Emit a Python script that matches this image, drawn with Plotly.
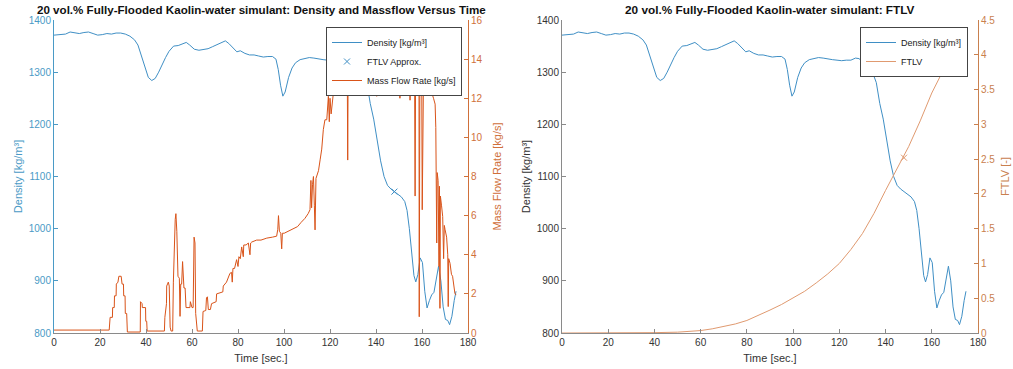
import plotly.graph_objects as go

# ---------------- data ----------------
density_time = [0, 2, 5, 7, 9, 11, 13, 15, 17, 19, 21, 23, 25, 27, 29, 31, 33, 35, 36.5, 38,
                39.5, 41, 42.5, 44, 45.5, 47, 48.5, 50, 52, 54, 56, 57.5, 59, 61, 63, 65, 67, 69, 71, 73,
                74.5, 76, 78, 79.5, 81, 83, 85, 87, 89, 91, 93, 95, 96.5, 97.5, 98.5, 99.5, 100.5, 102, 103.5, 105,
                107, 109, 111, 113, 115, 117, 119, 121, 123, 125, 127, 128.5, 130, 131.5, 133, 134.5, 136, 137.5, 139, 140.5,
                142, 143.5, 145, 146.5, 148, 149.5, 151, 152.5, 153.5, 154.5, 155.5, 156.5, 157.3, 158.2, 159.2, 160.2, 161.2, 162.2, 163.2, 164.2,
                165.2, 166.2, 167.2, 168.2, 169.2, 170.2, 171.2, 172, 173, 174, 174.8]
density = [1371, 1372, 1373, 1377, 1376, 1374, 1376, 1377, 1374, 1371, 1372, 1374, 1373, 1375, 1375, 1373, 1369, 1362, 1352, 1330,
           1308, 1290, 1284, 1288, 1300, 1315, 1328, 1340, 1350, 1351, 1354, 1357, 1352, 1344, 1342, 1344, 1345, 1349, 1353, 1358,
           1360, 1355, 1346, 1339, 1341, 1336, 1333, 1333, 1331, 1329, 1330, 1330, 1325, 1305, 1275, 1254, 1262, 1290, 1308, 1318,
           1324, 1326, 1328, 1327, 1325, 1324, 1323, 1322, 1323, 1323, 1327, 1326, 1320, 1312, 1305, 1298, 1280, 1240, 1210, 1170,
           1130, 1100, 1083, 1076, 1071, 1066, 1061, 1052, 1035, 1000, 950, 910, 898, 912, 944, 935, 880, 848, 862, 873,
           878, 905, 928, 900, 850, 826, 824, 816, 832, 862, 880]

massflow_time = [
    0, 24.0, 24.4, 25.4, 25.5, 26.2, 26.3, 27.0, 27.1, 27.8,
    28.2, 29.2, 29.6, 30.2, 30.3, 30.9, 31.0, 31.6, 31.9, 37.5,
    37.6, 38.3, 38.4, 39.8, 39.9, 40.3, 40.5, 48.0, 48.2, 48.9,
    49.0, 49.7, 50.1, 50.5, 50.9, 51.6, 51.9, 52.3, 52.7, 53.0,
    53.4, 53.9, 54.5, 54.8, 55.1, 55.5, 55.9, 56.5, 57.0, 57.4,
    59.1, 59.3, 60.0, 60.5, 60.9, 61.3, 61.6, 62.3, 64.5, 64.8,
    66.0, 66.3, 66.7, 67.1, 68.0, 68.5, 70.5, 70.7, 73.4, 73.6,
    75.0, 76.5, 77.2, 77.5, 77.8, 78.5, 79.4, 80.0, 80.4, 81.0,
    81.6, 82.3, 82.5, 83.5, 84.5, 85.2, 85.5, 86.0, 88.1, 90.0,
    92.5, 95.0, 96.8, 97.3, 97.6, 98.0, 98.6, 99.0, 99.3, 100.1,
    103.0, 104.0, 105.9, 107.4, 109.1, 110.5, 111.3, 111.7, 112.0, 112.4,
    112.8, 113.2, 113.5, 113.9, 114.2, 115.0, 115.7, 116.4, 117.1, 117.8,
    118.6, 119.3, 119.7, 120.0, 120.5, 121.4, 122.5, 123.6, 124.3, 125.0,
    125.8, 126.5, 127.0, 127.5, 127.7, 127.9, 128.5, 129.5, 131.0, 133.0,
    135.0, 137.0, 138.8, 139.6, 140.0, 140.3, 140.6, 141.7, 143.0, 144.6,
    146.0, 147.5, 148.1, 148.3, 148.6, 149.0, 150.2, 150.4, 150.7, 152.0,
    153.3, 154.6, 154.8, 155.0, 155.5, 156.5, 156.8, 157.0, 157.2, 157.5,
    157.7, 157.9, 158.5, 158.7, 158.8, 158.9, 159.1, 159.4, 159.9, 160.1,
    160.3, 160.6, 162.0, 163.0, 164.2, 165.0, 165.7, 166.0, 166.2, 166.4,
    166.6, 167.0, 167.4, 167.6, 167.8, 168.0, 168.5, 169.0, 169.4, 169.7,
    170.0, 170.7, 171.2, 171.4, 171.6, 172.2, 172.8, 173.3, 174.3, 174.8]
massflow = [
    0.15, 0.15, 0.8, 0.8, 1.3, 1.3, 1.9, 1.9, 2.5, 2.6,
    2.9, 2.9, 2.5, 2.5, 1.9, 1.9, 1.0, 1.0, 0.05, 0.05,
    1.6, 1.5, 1.3, 1.3, 0.6, 0.6, 0.1, 0.1, 0.8, 1.5,
    2.4, 2.6, 2.4, 0.3, 0.1, 0.1, 2.6, 4.5, 5.8, 6.1,
    5.2, 2.9, 2.8, 0.85, 2.5, 2.5, 3.65, 2.3, 2.3, 1.3,
    1.3, 1.6, 1.3, 1.3, 4.9, 4.6, 1.0, 0.1, 0.1, 1.1,
    1.15, 1.8, 1.85, 1.2, 1.2, 1.5, 1.6, 2.0, 2.1, 2.4,
    2.6, 3.05, 3.1, 2.6, 3.3, 3.3, 3.75, 3.4, 3.9, 3.8,
    4.4, 3.9, 4.5, 4.5, 4.6, 4.0, 4.6, 4.65, 4.75, 4.75,
    4.85, 4.9, 4.95, 5.3, 6.0, 5.2, 5.1, 4.3, 5.1, 5.1,
    5.27, 5.35, 5.44, 5.65, 5.86, 6.1, 6.3, 7.8, 6.4, 7.6,
    8.0, 6.5, 5.27, 7.9, 8.0, 8.3, 8.85, 9.4, 10.4, 10.9,
    10.9, 12.1, 10.8, 12.0, 11.2, 12.2, 12.2, 12.25, 12.8, 12.8,
    13.3, 13.5, 14.3, 13.6, 8.84, 13.8, 14.2, 14.5, 14.2, 14.4,
    14.1, 14.0, 13.6, 13.45, 13.3, 12.1, 13.2, 13.1, 13.05, 13.0,
    12.95, 12.9, 13.7, 12.3, 13.0, 13.0, 12.95, 12.0, 12.9, 12.9,
    12.85, 12.8, 11.9, 12.8, 12.77, 12.7, 12.6, 7.0, 12.6, 12.6,
    13.6, 12.6, 12.6, 12.5, 0.83, 12.5, 13.8, 12.5, 12.5, 6.3,
    12.5, 12.5, 12.4, 12.35, 12.3, 12.0, 11.7, 10.5, 8.3, 4.6,
    8.2, 7.8, 3.4, 7.5, 1.26, 7.0, 6.5, 5.95, 3.8, 5.5,
    5.3, 4.9, 4.0, 1.35, 3.8, 3.56, 3.0, 2.9, 2.03, 1.94]

ftlv_time = [0, 20, 40, 50, 55, 60, 65, 70, 75, 80, 85, 90, 95, 100, 105, 110, 115, 120, 125, 130,
             135, 140, 145, 150, 155, 160, 165, 170, 174.8]
ftlv = [0, 0.0, 0.005, 0.012, 0.02, 0.035, 0.06, 0.09, 0.13, 0.18, 0.25, 0.33, 0.41, 0.5, 0.6, 0.72, 0.85, 1.0, 1.2, 1.43,
        1.72, 2.05, 2.36, 2.68, 3.05, 3.45, 3.78, 4.07, 4.36]

ftlv_approx_time = [148.0]
ftlv_approx_density = [1071]
ftlv_approx_value = [2.52]

time_ticks = [0, 20, 40, 60, 80, 100, 120, 140, 160, 180]
density_ticks = [800, 900, 1000, 1100, 1200, 1300, 1400]
massflow_ticks = [0, 2, 4, 6, 8, 10, 12, 14, 16]
ftlv_ticks = [0, 0.5, 1, 1.5, 2, 2.5, 3, 3.5, 4, 4.5]
ftlv_tick_text = ["0", "0.5", "1", "1.5", "2", "2.5", "3", "3.5", "4", "4.5"]

# ---------------- style ----------------
W, H = 1013, 369
FONT = "Liberation Sans, Arial, sans-serif"
BLUE = "#3F8FC5"
BLUE_AX = "#4A9AC6"
ORANGE = "#D95319"
ORANGE_AX = "#D0703A"
FTLV_C = "#E09A70"
FTLV_AX = "#C9804E"
DARK = "#333333"
GREY_LINE = "#8A8A8A"


def px_x(p):
    return p / W


def px_y(p):
    return 1 - p / H


left_dom = [px_x(54), px_x(468)]
right_dom = [px_x(562), px_x(978)]
y_dom = [px_y(333), px_y(20)]

fig = go.Figure()

# left chart
fig.add_trace(go.Scatter(x=density_time, y=density, mode="lines", name="Density [kg/m³]",
                         line=dict(color=BLUE, width=1), xaxis="x", yaxis="y", legend="legend"))
fig.add_trace(go.Scatter(x=ftlv_approx_time, y=ftlv_approx_density, mode="markers", name="FTLV Approx.",
                         marker=dict(symbol="x-thin", size=6, color=BLUE, line=dict(color=BLUE, width=1)),
                         xaxis="x", yaxis="y", legend="legend"))
fig.add_trace(go.Scatter(x=massflow_time, y=massflow, mode="lines", name="Mass Flow Rate [kg/s]",
                         line=dict(color=ORANGE, width=1), xaxis="x", yaxis="y2", legend="legend"))

# right chart
fig.add_trace(go.Scatter(x=density_time, y=density, mode="lines", name="Density [kg/m³]",
                         line=dict(color=BLUE, width=1), xaxis="x2", yaxis="y3", legend="legend2"))
fig.add_trace(go.Scatter(x=ftlv_time, y=ftlv, mode="lines", name="FTLV",
                         line=dict(color=FTLV_C, width=1), xaxis="x2", yaxis="y4", legend="legend2"))
fig.add_trace(go.Scatter(x=ftlv_approx_time, y=ftlv_approx_value, mode="markers", showlegend=False,
                         marker=dict(symbol="x-thin", size=6, color=FTLV_C, line=dict(color=FTLV_C, width=1)),
                         xaxis="x2", yaxis="y4"))

tick_font = dict(family=FONT, size=10, color=DARK)
title_font = dict(family=FONT, size=11, color=DARK)


def xaxis(domain, anchor):
    return dict(domain=domain, anchor=anchor, range=[0, 180], tickvals=time_ticks, automargin=False,
                ticks="inside", ticklen=4, tickcolor=GREY_LINE, showline=True, linecolor=GREY_LINE,
                linewidth=1, showgrid=False, zeroline=False, tickfont=tick_font,
                title=dict(text="Time [sec.]", font=title_font, standoff=7))


def yaxis(rng, ticks, color, tcolor, text, standoff, **kw):
    d = dict(range=rng, tickvals=ticks, automargin=False,
             ticks="inside", ticklen=4, tickcolor=color, showline=True, linecolor=color,
             showgrid=False, zeroline=False, tickfont=dict(family=FONT, size=10, color=tcolor),
             title=dict(text=text, font=dict(family=FONT, size=11, color=tcolor), standoff=standoff))
    d.update(kw)
    return d


fig.update_layout(
    width=W, height=H, autosize=False,
    margin=dict(l=0, r=0, t=0, b=0, autoexpand=False),
    paper_bgcolor="white", plot_bgcolor="white",
    font=dict(family=FONT, color=DARK),
    showlegend=True,
    xaxis=xaxis(left_dom, "y"),
    xaxis2=xaxis(right_dom, "y3"),
    yaxis=yaxis([800, 1400], density_ticks, BLUE_AX, BLUE_AX, "Density [kg/m³]", 3,
                domain=y_dom, anchor="x"),
    yaxis2=yaxis([0, 16], massflow_ticks, ORANGE_AX, ORANGE_AX, "Mass Flow Rate [kg/s]", 11,
                 overlaying="y", side="right", anchor="x"),
    yaxis3=yaxis([800, 1400], density_ticks, GREY_LINE, DARK, "Density [kg/m³]", 3,
                 domain=y_dom, anchor="x2"),
    yaxis4=yaxis([0, 4.5], ftlv_ticks, FTLV_AX, FTLV_AX, "FTLV [-]", 6,
                 overlaying="y3", side="right", anchor="x2", ticktext=ftlv_tick_text),
    legend=dict(x=px_x(462), xanchor="right", y=px_y(27), yanchor="top",
                bgcolor="white", bordercolor="#444444", borderwidth=1,
                font=dict(family=FONT, size=9, color="#222222"), itemwidth=30,
                tracegroupgap=0),
    legend2=dict(x=px_x(968), xanchor="right", y=px_y(27), yanchor="top",
                 bgcolor="white", bordercolor="#444444", borderwidth=1,
                 font=dict(family=FONT, size=9, color="#222222"), itemwidth=30,
                 tracegroupgap=0),
    annotations=[
        dict(text="<b>20 vol.% Fully-Flooded Kaolin-water simulant: Density and Massflow Versus Time</b>",
             x=(left_dom[0] + left_dom[1]) / 2, y=px_y(9), xref="paper", yref="paper",
             xanchor="center", yanchor="middle", showarrow=False,
             font=dict(family=FONT, size=11.6, color="#111111")),
        dict(text="<b>20 vol.% Fully-Flooded Kaolin-water simulant: FTLV</b>",
             x=(right_dom[0] + right_dom[1]) / 2, y=px_y(10), xref="paper", yref="paper",
             xanchor="center", yanchor="middle", showarrow=False,
             font=dict(family=FONT, size=11.8, color="#111111")),
    ],
)

fig.write_html("out.html",
               config={"displayModeBar": False},
               post_script="document.body.style.margin='0';document.body.style.padding='0';"
                           "document.documentElement.style.overflow='hidden';")
